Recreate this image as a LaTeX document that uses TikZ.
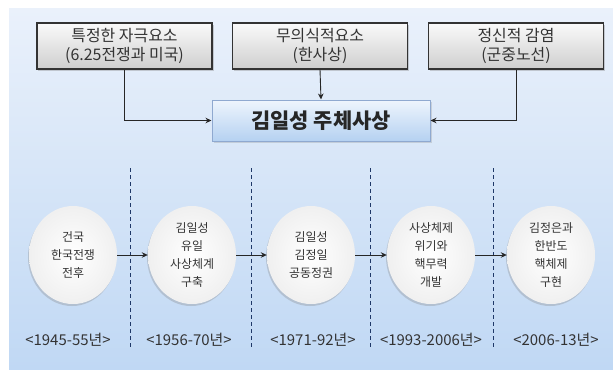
\documentclass[tikz,border=0pt]{standalone}
\usepackage{fontspec}
\setmainfont{Noto Sans CJK KR}
\usetikzlibrary{shadows,arrows.meta,shapes.geometric}
\definecolor{bgtop}{HTML}{EAF1FB}
\definecolor{bgbot}{HTML}{C0D8F4}
\definecolor{mtop}{HTML}{EEF5FD}
\definecolor{mbot}{HTML}{B5D1F1}
\definecolor{mline}{HTML}{8FA9D0}
\definecolor{navy}{HTML}{1F3868}
\definecolor{txt}{HTML}{333333}
\begin{document}
\begin{tikzpicture}[x=1bp,y=-1bp,
  topbox/.style={draw=black!80, line width=1.2bp, top color=white!96!gray, bottom color=gray!38,
    minimum width=175bp, minimum height=46bp, inner sep=0pt, align=center, text=txt,
    font=\fontsize{16}{19}\selectfont,
    drop shadow={opacity=0.35, shadow xshift=1.5bp, shadow yshift=-1.5bp}},
  mainbox/.style={draw=mline, line width=1bp, top color=mtop, bottom color=mbot,
    minimum width=218bp, minimum height=41bp, inner sep=0pt, text=black!85,
    font=\fontsize{21}{24}\selectfont\bfseries,
    drop shadow={opacity=0.25, shadow xshift=1.5bp, shadow yshift=-1.5bp}},
  era/.style={ellipse, minimum width=88bp, minimum height=98bp, inner sep=0pt,
    inner color=white, outer color=gray!12, align=center, text=txt,
    font=\fontsize{12}{18}\selectfont,
    drop shadow={opacity=0.3, shadow xshift=-1bp, shadow yshift=-2bp}},
  yr/.style={text=txt, font=\fontsize{15}{18}\selectfont, inner sep=0pt},
  arr/.style={-{Stealth[length=6bp,width=5.5bp]}, line width=0.9bp, black!85},
  sep/.style={navy, line width=1bp, dash pattern=on 4bp off 3bp}
]
\useasboundingbox (0,0) rectangle (613,369);
\fill[top color=bgtop, bottom color=bgbot] (9,8) rectangle (613,369);

\node[topbox] (b1) at (124.5,46) {특정한 자극요소\\(6.25전쟁과 미국)};
\node[topbox] (b2) at (320,46) {무의식적요소\\(한사상)};
\node[topbox] (b3) at (516,46) {정신적 감염\\(군중노선)};
\node[mainbox] (m) at (321,120.5) {김일성 주체사상};

\draw[arr] (b1.south) |- (m.west);
\draw[arr] (b2.south) -- (m.north);
\draw[arr] (b3.south) |- (m.east);

\coordinate (d1t) at (130,168); \coordinate (d1b) at (130,347);
\coordinate (d2t) at (251,168); \coordinate (d2b) at (251,347);
\coordinate (d3t) at (370,168); \coordinate (d3b) at (370,347);
\coordinate (d4t) at (493,168); \coordinate (d4b) at (493,347);
\draw[sep] (d1t) -- (d1b);
\draw[sep] (d2t) -- (d2b);
\draw[sep] (d3t) -- (d3b);
\draw[sep] (d4t) -- (d4b);

\node[era] (c1) at (73,255) {건국\\한국전쟁\\전후};
\node[era] (c2) at (192,255) {김일성\\유일\\사상체계\\구축};
\node[era] (c3) at (311,255) {김일성\\김정일\\공동정권};
\node[era] (c4) at (431,255) {사상체제\\위기와\\핵무력\\개발};
\node[era] (c5) at (551,255) {김정은과\\한반도\\핵체제\\구현};

\draw[arr] (c1) -- (c2);
\draw[arr] (c2) -- (c3);
\draw[arr] (c3) -- (c4);
\draw[arr] (c4) -- (c5);

\node[yr] (y1) at (68,340) {<1945-55년>};
\node[yr] (y2) at (189,340) {<1956-70년>};
\node[yr] (y3) at (313,340) {<1971-92년>};
\node[yr] (y4) at (431,340) {<1993-2006년>};
\node[yr] (y5) at (556,340) {<2006-13년>};
\end{tikzpicture}
\end{document}
